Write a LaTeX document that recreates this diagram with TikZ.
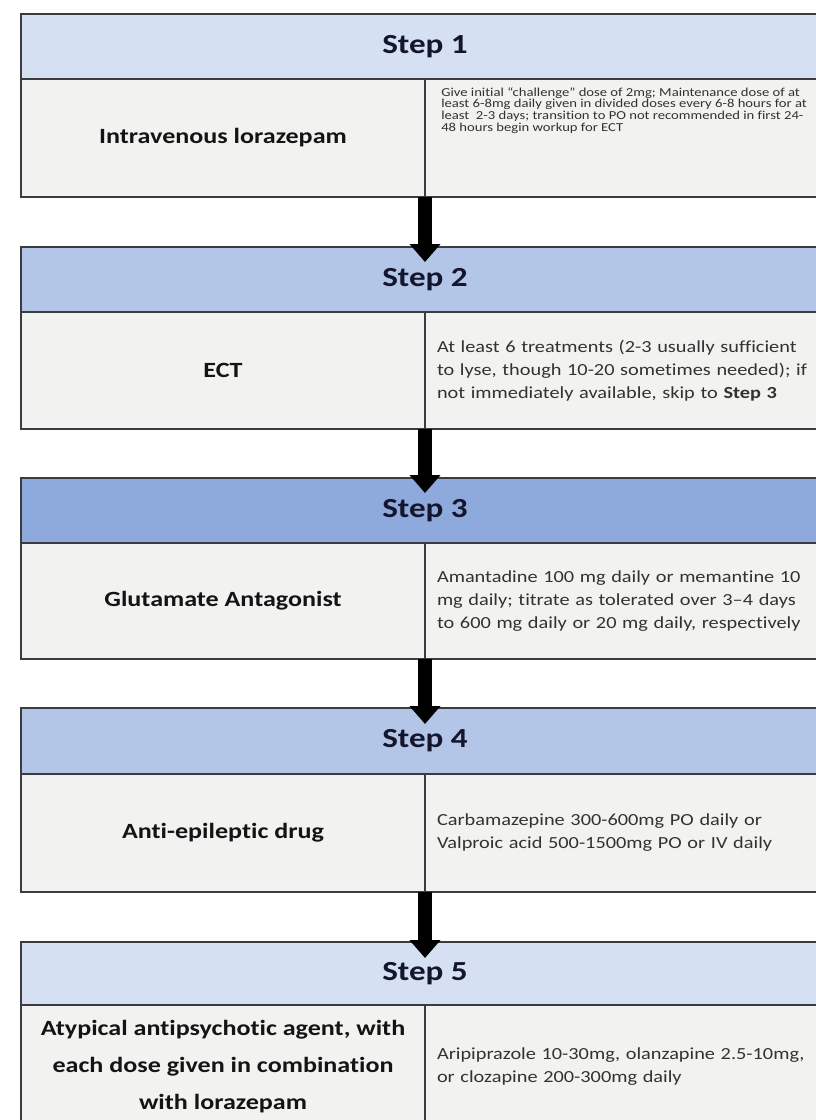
\documentclass[tikz,border=0pt]{standalone}
\usepackage{fontspec}
\setmainfont{Carlito}[FakeStretch=1.2,Ligatures={NoCommon}]
\usetikzlibrary{arrows.meta}
\definecolor{hA}{RGB}{214,224,243}
\definecolor{hB}{RGB}{180,198,231}
\definecolor{hC}{RGB}{142,169,219}
\definecolor{bodyc}{RGB}{242,242,240}
\definecolor{edgec}{RGB}{60,60,64}
\definecolor{titlec}{RGB}{20,22,45}
\definecolor{labelc}{RGB}{20,20,20}
\definecolor{notec}{RGB}{50,50,50}
\begin{document}
\begin{tikzpicture}[x=0.75pt,y=-0.75pt,
  cell/.style={draw=edgec,line width=1.6pt,inner sep=0pt,outer sep=0pt,anchor=north west,fill=bodyc,minimum width=303pt},
  header/.style={cell,minimum width=606pt,font=\bfseries\fontsize{20.7}{24}\selectfont,text=titlec},
  leftlabel/.style={font=\bfseries\fontsize{16.3}{27.75}\selectfont,text=labelc,align=center},
  rightnote/.style={font=\fontsize{12.7}{17.25}\selectfont,text=notec,align=left,text width=320pt,inner xsep=9pt},
  tinynote/.style={font=\fontsize{9.15}{8.85}\selectfont,text=notec,align=left,anchor=north west,inner sep=0pt},
  flow/.style={line width=10.5pt,draw=black,-{Triangle[width=22.5pt,length=13.5pt]}}]
\useasboundingbox (0,0) rectangle (816,1120);
\clip (0,0) rectangle (816,1120);
\fill[white] (0,0) rectangle (816,1120);

% Step 1
\node[header,fill=hA,minimum height=48.75pt] (h1) at (21,14) {Step 1};
\node[cell,leftlabel,minimum height=88.5pt] (l1) at (21,79) {Intravenous lorazepam};
\node[cell,minimum height=88.5pt] (r1) at (425,79) {};
\node[tinynote] (t1) at (441,87) {Give initial “challenge” dose of 2mg; Maintenance dose of at\\
least 6-8mg daily given in divided doses every 6-8 hours for at\\
least\ \ 2-3 days; transition to PO not recommended in first 24-\\
48 hours begin workup for ECT};

% Step 2
\node[header,fill=hB,minimum height=48.75pt] (h2) at (21,247) {Step 2};
\node[cell,leftlabel,minimum height=87.75pt] (l2) at (21,312) {ECT};
\node[cell,rightnote,minimum height=87.75pt] (r2) at (425,312) {At least 6 treatments (2-3 usually sufficient\\
to lyse, though 10-20 sometimes needed); if\\
not immediately available, skip to \textbf{Step 3}};

% Step 3
\node[header,fill=hC,minimum height=48.75pt] (h3) at (21,478) {Step 3};
\node[cell,leftlabel,minimum height=87pt] (l3) at (21,543) {Glutamate Antagonist};
\node[cell,rightnote,minimum height=87pt] (r3) at (425,543) {Amantadine 100 mg daily or memantine 10\\
mg daily; titrate as tolerated over 3–4 days\\
to 600 mg daily or 20 mg daily, respectively};

% Step 4
\node[header,fill=hB,minimum height=49.5pt] (h4) at (21,708) {Step 4};
\node[cell,leftlabel,minimum height=88.5pt] (l4) at (21,774) {Anti-epileptic drug};
\node[cell,rightnote,minimum height=88.5pt] (r4) at (425,774) {Carbamazepine 300-600mg PO daily or\\
Valproic acid 500-1500mg PO or IV daily};

% Step 5
\node[header,fill=hA,minimum height=47.25pt] (h5) at (21,942) {Step 5};
\node[cell,leftlabel,minimum height=93pt] (l5) at (21,1005) {Atypical antipsychotic agent, with\\
each dose given in combination\\
with lorazepam};
\node[cell,rightnote,minimum height=93pt] (r5) at (425,1005) {Aripiprazole 10-30mg, olanzapine 2.5-10mg,\\
or clozapine 200-300mg daily};

% arrows
\draw[flow] (l1.south east) -- ([yshift=-11.25pt]h2.north);
\draw[flow] (l2.south east) -- ([yshift=-11.25pt]h3.north);
\draw[flow] (l3.south east) -- ([yshift=-12pt]h4.north);
\draw[flow] (l4.south east) -- ([yshift=-12pt]h5.north);
\end{tikzpicture}
\end{document}
